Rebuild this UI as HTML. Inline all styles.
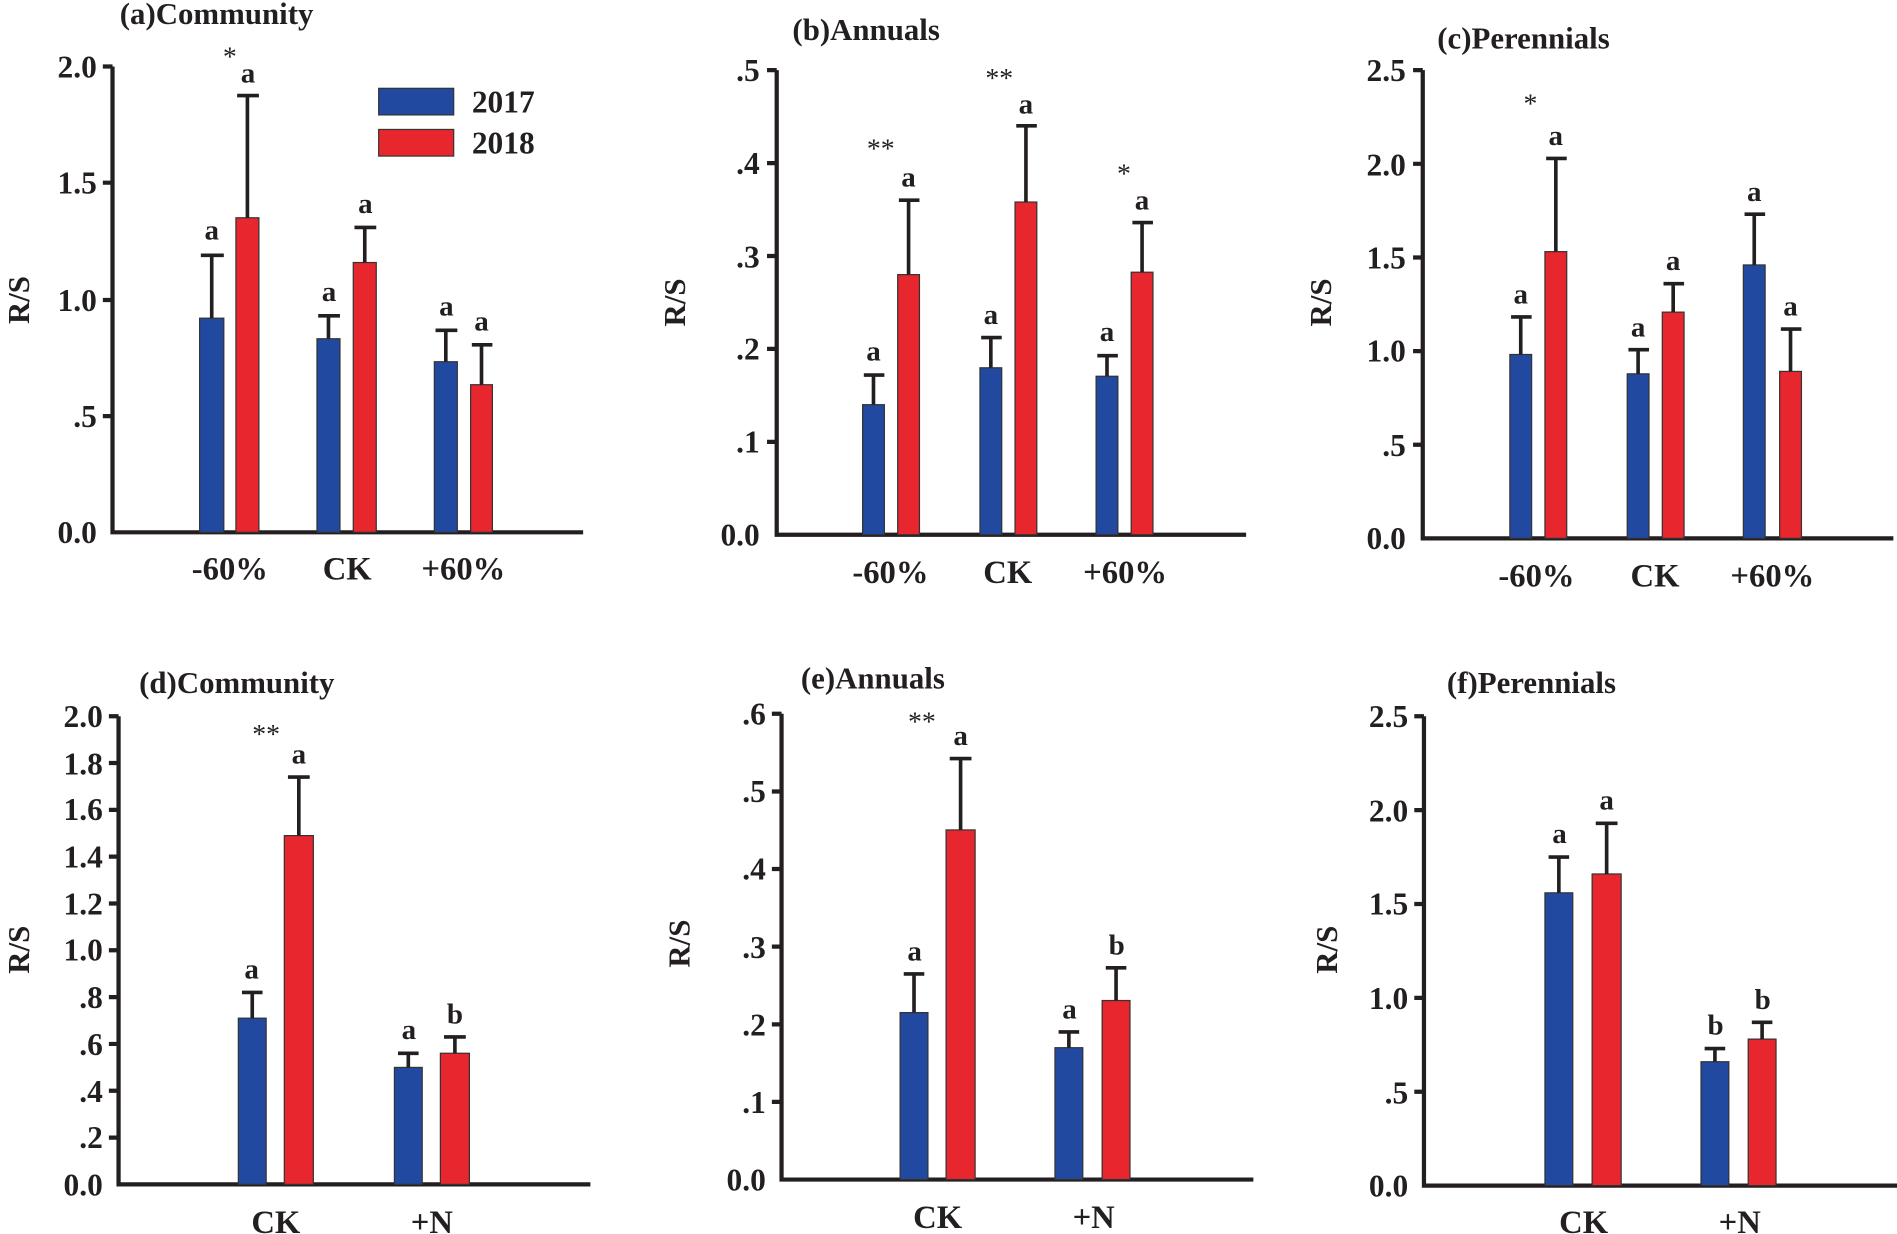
<!DOCTYPE html>
<html><head><meta charset="utf-8"><style>
html,body{margin:0;padding:0;background:#fff;}
svg{display:block;}
text{font-family:"Liberation Serif",serif;font-weight:bold;fill:#231f20;}
.t{font-size:26px;text-anchor:end;}
.c{font-size:27px;text-anchor:middle;}
.l{font-size:24px;text-anchor:middle;}
.s{font-size:23px;text-anchor:middle;font-weight:normal;}
.h{font-size:25.5px;}
.b{fill:#2149a0;stroke:#333;stroke-width:1;}
.r{fill:#e8262d;stroke:#333;stroke-width:1;}
.ax{stroke:#231f20;stroke-width:3.5;fill:none;}
.e{stroke:#231f20;stroke-width:3;fill:none;}
</style></head><body>
<svg width="1897" height="1234" viewBox="0 0 1568 1020" preserveAspectRatio="none">
<!-- (a) -->
<text class="h" x="99" y="20">(a)Community</text>
<text class="h" transform="translate(24,248) rotate(-90)" text-anchor="middle">R/S</text>
<path class="ax" d="M93 55V440H482M85 55H93M85 151H93M85 248H93M85 344H93"/>
<text class="t" x="80" y="64">2.0</text><text class="t" x="80" y="160">1.5</text><text class="t" x="80" y="257">1.0</text><text class="t" x="80" y="353">.5</text><text class="t" x="80" y="449">0.0</text>
<rect class="b" x="165" y="263" width="20" height="177"/><path class="e" d="M175 263V211M166 211H185"/><text class="l" x="175" y="198">a</text>
<rect class="r" x="195" y="180" width="19" height="260"/><path class="e" d="M204.5 180V79M196 79H214"/><text class="l" x="205" y="68">a</text><text class="s" x="190" y="54">*</text>
<rect class="b" x="262" y="280" width="19" height="160"/><path class="e" d="M271.5 280V261M263 261H281"/><text class="l" x="272" y="249">a</text>
<rect class="r" x="292" y="217" width="19" height="223"/><path class="e" d="M301.5 217V188M293 188H311"/><text class="l" x="302" y="176">a</text>
<rect class="b" x="359" y="299" width="19" height="141"/><path class="e" d="M368.5 299V273M360 273H378"/><text class="l" x="369" y="261">a</text>
<rect class="r" x="389" y="318" width="18" height="122"/><path class="e" d="M398 318V285M390 285H407"/><text class="l" x="398" y="273">a</text>
<rect class="b" x="313" y="73" width="62" height="22"/><rect class="r" x="313" y="107" width="62" height="22"/>
<text x="390" y="93" style="font-size:26px">2017</text><text x="390" y="127" style="font-size:26px">2018</text>
<text class="c" x="190" y="479">-60%</text><text class="c" x="287" y="479">CK</text><text class="c" x="383" y="479">+60%</text>
<!-- (b) -->
<text class="h" x="655" y="33">(b)Annuals</text>
<text class="h" transform="translate(566,250) rotate(-90)" text-anchor="middle">R/S</text>
<path class="ax" d="M642 58V442H1030M634 58H642M634 134.8H642M634 211.6H642M634 288.4H642M634 365.2H642"/>
<text class="t" x="628" y="67">.5</text><text class="t" x="628" y="144">.4</text><text class="t" x="628" y="221">.3</text><text class="t" x="628" y="297">.2</text><text class="t" x="628" y="374">.1</text><text class="t" x="628" y="451">0.0</text>
<rect class="b" x="713" y="334.5" width="18" height="107.5"/><path class="e" d="M722 334.5V310M714 310H731"/><text class="l" x="722" y="298">a</text>
<rect class="r" x="742" y="227" width="18" height="215"/><path class="e" d="M751 227V165.5M743 165.5H760"/><text class="l" x="751" y="154">a</text><text class="s" x="728" y="130">**</text>
<rect class="b" x="810" y="304" width="18" height="138"/><path class="e" d="M819 304V279M811 279H828"/><text class="l" x="819" y="268">a</text>
<rect class="r" x="839" y="167" width="18" height="275"/><path class="e" d="M848 167V104M840 104H857"/><text class="l" x="848" y="94">a</text><text class="s" x="826" y="72">**</text>
<rect class="b" x="906" y="311" width="18" height="131"/><path class="e" d="M915 311V294M907 294H924"/><text class="l" x="915" y="282">a</text>
<rect class="r" x="935" y="225" width="18" height="217"/><path class="e" d="M944 225V184M936 184H953"/><text class="l" x="944" y="173">a</text><text class="s" x="929" y="151">*</text>
<text class="c" x="736" y="482">-60%</text><text class="c" x="833" y="482">CK</text><text class="c" x="930" y="482">+60%</text>
<!-- (c) -->
<text class="h" x="1188" y="40">(c)Perennials</text>
<text class="h" transform="translate(1100,250) rotate(-90)" text-anchor="middle">R/S</text>
<path class="ax" d="M1176 58V445H1565M1168 58H1176M1168 135.4H1176M1168 212.8H1176M1168 290.2H1176M1168 367.6H1176"/>
<text class="t" x="1162" y="67">2.5</text><text class="t" x="1162" y="145">2.0</text><text class="t" x="1162" y="222">1.5</text><text class="t" x="1162" y="299">1.0</text><text class="t" x="1162" y="377">.5</text><text class="t" x="1162" y="454">0.0</text>
<rect class="b" x="1248" y="293" width="18" height="152"/><path class="e" d="M1257 293V262M1249 262H1266"/><text class="l" x="1257" y="251">a</text>
<rect class="r" x="1277" y="208" width="18" height="237"/><path class="e" d="M1286 208V131M1278 131H1295"/><text class="l" x="1286" y="120">a</text><text class="s" x="1265" y="93">*</text>
<rect class="b" x="1345" y="309" width="18" height="136"/><path class="e" d="M1354 309V289M1346 289H1363"/><text class="l" x="1354" y="278">a</text>
<rect class="r" x="1374" y="258" width="18" height="187"/><path class="e" d="M1383 258V234.5M1375 234.5H1392"/><text class="l" x="1383" y="223">a</text>
<rect class="b" x="1441" y="219" width="18" height="226"/><path class="e" d="M1450 219V177M1442 177H1459"/><text class="l" x="1450" y="166">a</text>
<rect class="r" x="1471" y="307" width="18" height="138"/><path class="e" d="M1480 307V272M1472 272H1489"/><text class="l" x="1480" y="261">a</text>
<text class="c" x="1270" y="485">-60%</text><text class="c" x="1368" y="485">CK</text><text class="c" x="1465" y="485">+60%</text>
<!-- (d) -->
<text class="h" x="115" y="573">(d)Community</text>
<text class="h" transform="translate(24,785) rotate(-90)" text-anchor="middle">R/S</text>
<path class="ax" d="M98 592V979H488M90 592H98M90 630.7H98M90 669.4H98M90 708.1H98M90 746.8H98M90 785.5H98M90 824.2H98M90 862.9H98M90 901.6H98M90 940.3H98"/>
<text class="t" x="85" y="601">2.0</text><text class="t" x="85" y="640">1.8</text><text class="t" x="85" y="678">1.6</text><text class="t" x="85" y="717">1.4</text><text class="t" x="85" y="756">1.2</text><text class="t" x="85" y="794">1.0</text><text class="t" x="85" y="833">.8</text><text class="t" x="85" y="872">.6</text><text class="t" x="85" y="911">.4</text><text class="t" x="85" y="949">.2</text><text class="t" x="85" y="988">0.0</text>
<rect class="b" x="197" y="841.6" width="23" height="137.4"/><path class="e" d="M208.5 841.6V820.3M200 820.3H217"/><text class="l" x="208" y="809">a</text>
<rect class="r" x="235" y="690.7" width="24" height="288.3"/><path class="e" d="M247 690.7V642.3M238 642.3H256"/><text class="l" x="247" y="631">a</text><text class="s" x="220" y="614">**</text>
<rect class="b" x="326" y="882.3" width="23" height="96.7"/><path class="e" d="M337.5 882.3V870.6M329 870.6H346"/><text class="l" x="338" y="859">a</text>
<rect class="r" x="364" y="870.6" width="24" height="108.4"/><path class="e" d="M376 870.6V857.1M367 857.1H385"/><text class="l" x="376" y="846">b</text>
<text class="c" x="228" y="1019">CK</text><text class="c" x="357" y="1019">+N</text>
<!-- (e) -->
<text class="h" x="662" y="569">(e)Annuals</text>
<text class="h" transform="translate(570,780) rotate(-90)" text-anchor="middle">R/S</text>
<path class="ax" d="M646 590V975H1036M638 590H646M638 654.2H646M638 718.3H646M638 782.5H646M638 846.7H646M638 910.8H646"/>
<text class="t" x="633" y="599">.6</text><text class="t" x="633" y="663">.5</text><text class="t" x="633" y="727">.4</text><text class="t" x="633" y="792">.3</text><text class="t" x="633" y="856">.2</text><text class="t" x="633" y="920">.1</text><text class="t" x="633" y="984">0.0</text>
<rect class="b" x="744" y="837" width="23" height="138"/><path class="e" d="M755.5 837V805M747 805H764"/><text class="l" x="756" y="794">a</text>
<rect class="r" x="782" y="686" width="24" height="289"/><path class="e" d="M794 686V627M785 627H803"/><text class="l" x="794" y="616">a</text><text class="s" x="762" y="604">**</text>
<rect class="b" x="872" y="866" width="23" height="109"/><path class="e" d="M883.5 866V853M875 853H892"/><text class="l" x="884" y="842">a</text>
<rect class="r" x="911" y="827" width="23" height="148"/><path class="e" d="M922.5 827V800M914 800H931"/><text class="l" x="923" y="789">b</text>
<text class="c" x="775" y="1015">CK</text><text class="c" x="904" y="1015">+N</text>
<!-- (f) -->
<text class="h" x="1196" y="573">(f)Perennials</text>
<text class="h" transform="translate(1105,785) rotate(-90)" text-anchor="middle">R/S</text>
<path class="ax" d="M1177 592V980H1568M1169 592H1177M1169 669.6H1177M1169 747.2H1177M1169 824.8H1177M1169 902.4H1177"/>
<text class="t" x="1164" y="601">2.5</text><text class="t" x="1164" y="679">2.0</text><text class="t" x="1164" y="756">1.5</text><text class="t" x="1164" y="834">1.0</text><text class="t" x="1164" y="912">.5</text><text class="t" x="1164" y="989">0.0</text>
<rect class="b" x="1277" y="738" width="23" height="242"/><path class="e" d="M1288.5 738V708.4M1280 708.4H1297"/><text class="l" x="1289" y="697">a</text>
<rect class="r" x="1316" y="722.4" width="24" height="257.6"/><path class="e" d="M1328 722.4V680.5M1319 680.5H1337"/><text class="l" x="1328" y="669">a</text>
<rect class="b" x="1406" y="877.6" width="23" height="102.4"/><path class="e" d="M1417.5 877.6V866.7M1409 866.7H1426"/><text class="l" x="1418" y="855">b</text>
<rect class="r" x="1445" y="858.9" width="23" height="121.1"/><path class="e" d="M1456.5 858.9V845M1448 845H1465"/><text class="l" x="1457" y="834">b</text>
<text class="c" x="1309" y="1019">CK</text><text class="c" x="1438" y="1019">+N</text>
</svg>
</body></html>
